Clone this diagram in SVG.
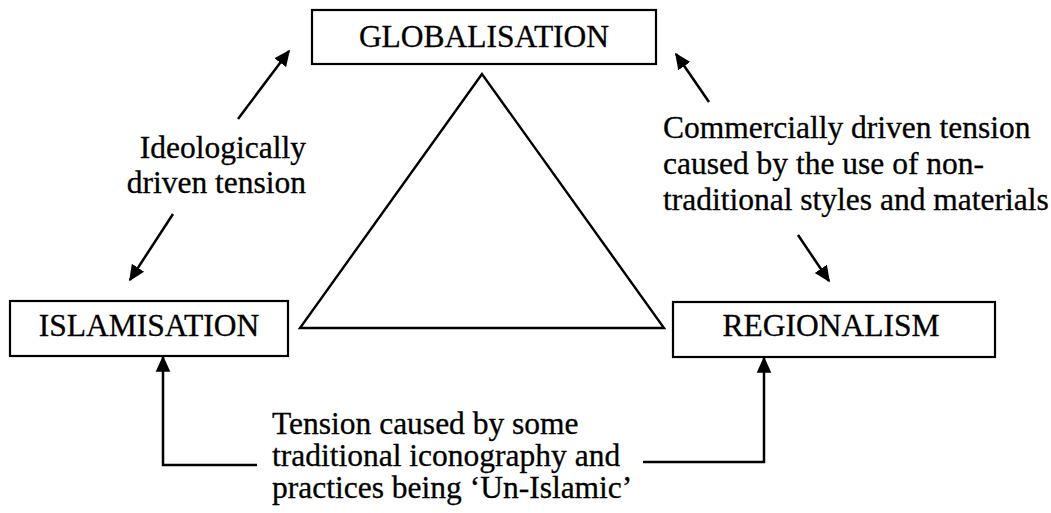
<svg xmlns="http://www.w3.org/2000/svg" width="1051" height="513" viewBox="0 0 1051 513">
<style>
.box{fill:#fff;stroke:#000;stroke-width:2.2}
.t{font-family:"Liberation Serif","Times New Roman",serif;font-size:31.5px;fill:#000;stroke:#000;stroke-width:0.3}
.c{text-anchor:middle}
.e{text-anchor:end}
.ln{fill:none;stroke:#000;stroke-width:2.5}
</style>
<defs>
<marker id="ah" viewBox="0 0 10 10" refX="9" refY="5" markerWidth="6.5" markerHeight="6.5" markerUnits="strokeWidth" orient="auto">
<path d="M0,0.5 L10,5 L0,9.5 Z" fill="#000"/>
</marker>
</defs>
<rect width="1051" height="513" fill="#fff"/>
<g id="globalisation">
<rect class="box" x="312" y="10" width="344" height="54"/>
<text class="t c" x="484" y="47">GLOBALISATION</text>
</g>
<g id="islamisation">
<rect class="box" x="10" y="301" width="278" height="55"/>
<text class="t c" x="149" y="336">ISLAMISATION</text>
</g>
<g id="regionalism">
<rect class="box" x="673" y="302" width="322" height="55"/>
<text class="t c" x="831" y="336">REGIONALISM</text>
</g>
<g id="triangle">
<polygon points="482,74 300,328 664,328" fill="none" stroke="#000" stroke-width="2.4"/>
</g>
<g id="labels">
<text class="t e" x="306" y="158">Ideologically</text>
<text class="t e" x="306" y="193">driven tension</text>
<text class="t" x="663" y="138">Commercially driven tension</text>
<text class="t" x="663" y="174">caused by the use of non-</text>
<text class="t" x="663" y="210">traditional styles and materials</text>
<text class="t" x="272" y="434">Tension caused by some</text>
<text class="t" x="272" y="466">traditional iconography and</text>
<text class="t" x="272" y="498">practices being ‘Un-Islamic’</text>
</g>
<g id="connectors">
<line class="ln" x1="238" y1="119" x2="289" y2="51" marker-end="url(#ah)"/>
<line class="ln" x1="173" y1="214" x2="130" y2="280" marker-end="url(#ah)"/>
<line class="ln" x1="709" y1="102" x2="676" y2="54" marker-end="url(#ah)"/>
<line class="ln" x1="798" y1="235" x2="829" y2="281" marker-end="url(#ah)"/>
<polyline class="ln" points="257,465 163,465 163,357" marker-end="url(#ah)"/>
<polyline class="ln" points="643,462 764,462 764,358" marker-end="url(#ah)"/>
</g>
</svg>
